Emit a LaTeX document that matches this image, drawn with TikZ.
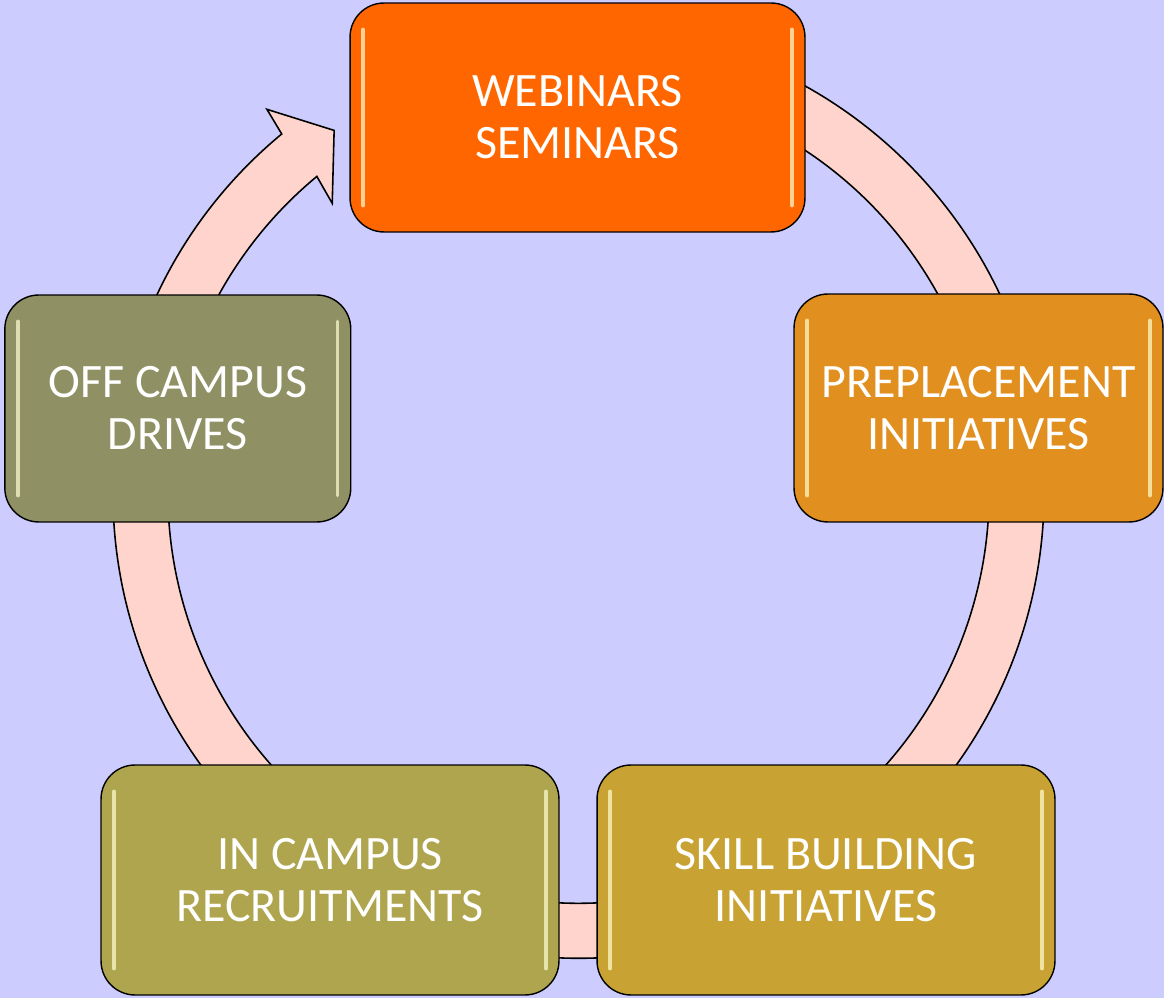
\documentclass[tikz,border=0pt]{standalone}
\usepackage{fontspec}
\usepackage{xcolor}
\setmainfont{Carlito}

\definecolor{bglilac}{HTML}{CCCCFF}
\definecolor{ringpink}{HTML}{FFD4CC}
\definecolor{gloss}{HTML}{FFFFD0}
\definecolor{cweb}{HTML}{FF6600}
\definecolor{cpre}{HTML}{E18F1E}
\definecolor{cskill}{HTML}{C8A233}
\definecolor{cin}{HTML}{AFA54E}
\definecolor{coff}{HTML}{8F9063}

\begin{document}
\begin{tikzpicture}[
        x=0.02cm, y=0.02cm,
        box/.style={draw=black, line width=0.8pt, rounded corners=0.68cm,
            minimum height=4.58cm, text=white, align=center, inner sep=0pt,
            font=\fontsize{27.3}{29.5}\selectfont,
            path picture={
                \draw[gloss, opacity=0.7, line width=2pt, line cap=round]
                    ([xshift=7.5pt, yshift=-15pt]path picture bounding box.north west)
                    -- ([xshift=7.5pt, yshift=15pt]path picture bounding box.south west);
                \draw[gloss, opacity=0.7, line width=2pt, line cap=round]
                    ([xshift=-7.5pt, yshift=-15pt]path picture bounding box.north east)
                    -- ([xshift=-7.5pt, yshift=15pt]path picture bounding box.south east);
            }},
        ring/.style={draw=black, line width=0.9pt, fill=ringpink, line join=miter}]

        % BACKGROUND
        \fill[bglilac] (0,0) rectangle (1164,998);
        \useasboundingbox (0,0) rectangle (1164,998);

        % RING
        % hub of the cycle
        \coordinate (hub) at (578.5,505.3);
        \begin{scope}[shift={(hub)}]
            \draw[ring] (129.6:465.6) arc[start angle=129.6, end angle=430, radius=465.6]
                -- (430:410.5) arc[start angle=430, end angle=129.6, radius=410.5]
                -- (130.4:380) -- (124:437) -- (129.1:494) -- cycle;
        \end{scope}

        % NODES
        % top
        \node[box, fill=cweb, minimum width=9.1cm] (webinars) at (577.5,880.5) {WEBINARS\\SEMINARS};
        % right
        \node[box, fill=cpre, minimum width=7.38cm, minimum height=4.56cm] (preplacement) at (978.5,590) {PREPLACEMENT\\INITIATIVES};
        % bottom right
        \node[box, fill=cskill, minimum width=9.16cm, minimum height=4.6cm] (skill) at (826,118) {SKILL BUILDING\\INITIATIVES};
        % bottom left
        \node[box, fill=cin, minimum width=9.16cm, minimum height=4.6cm] (incampus) at (330,118) {IN CAMPUS\\RECRUITMENTS};
        % left
        \node[box, fill=coff, minimum width=6.92cm, minimum height=4.54cm] (offcampus) at (177.8,589.5) {OFF CAMPUS\\DRIVES};
\end{tikzpicture}
\end{document}
